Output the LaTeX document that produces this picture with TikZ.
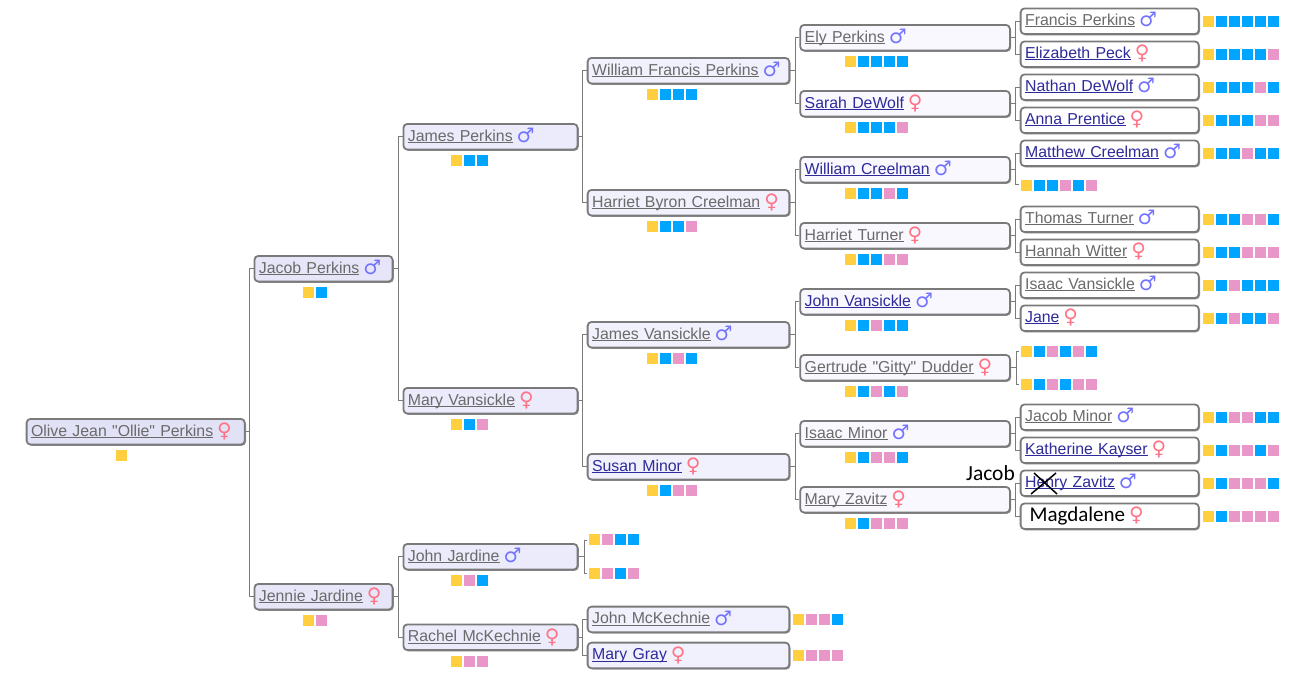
\documentclass[tikz,border=0pt]{standalone}
\usepackage{fontspec}
\newfontfamily\namefont{Liberation Sans}
\newfontfamily\symfont{DejaVu Sans}
\newfontfamily\notefont{Carlito}
\usetikzlibrary{shadows}
\definecolor{tintA}{HTML}{E2E2F6}
\definecolor{tintB}{HTML}{E6E6F8}
\definecolor{tintC}{HTML}{EBEBFB}
\definecolor{tintD}{HTML}{F1F1FD}
\definecolor{tintE}{HTML}{F8F8FE}
\definecolor{seen}{HTML}{6A6A6A}
\definecolor{fresh}{HTML}{2E2A9A}
\definecolor{maleink}{HTML}{7373FF}
\definecolor{femaleink}{HTML}{FF7385}
\definecolor{edge}{HTML}{7A7A7A}
\definecolor{dnaY}{HTML}{FFCF40}
\definecolor{dnaB}{HTML}{00A5FF}
\definecolor{dnaP}{HTML}{E897C8}
\newcommand{\symM}{{\color{maleink}\symfont\fontsize{20}{19}\selectfont\bfseries ♂}}
\newcommand{\symF}{{\color{femaleink}\symfont\fontsize{20}{19}\selectfont\bfseries ♀}}
\newcommand{\ulname}[1]{\setbox0=\hbox{#1}\rlap{\rule[-1.9pt]{\wd0}{0.9pt}}\box0}
\newcommand{\namecard}[3]{\textcolor{#1}{\ulname{#2}}\hspace{4pt}\raisebox{-1.5pt}{#3}}
\newcommand{\dnarow}[3]{\edef\dnalist{#3}%
	\foreach \c [count=\i from 0] in \dnalist {\fill[dna\c] ({#1+13*\i},{#2}) rectangle ++(11,11);}}
\tikzset{person/.style={draw=edge, line width=1.8pt, rounded corners=4pt, anchor=north west,
		minimum height=25.7pt, inner xsep=4.5pt, inner ysep=0pt, align=left,
		text height=12pt, text depth=3pt,
		font=\namefont\fontsize{15.85}{19}\selectfont,
		drop shadow={shadow xshift=1.2pt, shadow yshift=-1.2pt, opacity=.4, fill=black}},
	lastperson/.style={person, fill=white, text width=169.2pt, text height=11.5pt, text depth=3.5pt},
	link/.style={draw=edge, line width=1pt}}

\begin{document}
\begin{tikzpicture}[x=1pt,y=-1pt]
	\useasboundingbox (0,0) rectangle (1300,680);
	% root
	\foreach \id/\y/\who/\ink/\sx/\dna in {olive/418/Olive Jean "Ollie" Perkins/seen/\symF/Y}{%
		\node[person,fill=tintA,text width=209.2pt] (\id) at (25.7,\y) {\namecard{\ink}{\who}{\sx}};
		\dnarow{116}{\y+32}{\dna}
	}
	% parents
	\foreach \id/\y/\who/\ink/\sx/\dna in {jacobp/255/Jacob Perkins/seen/\symM/{Y,B},
		jennie/583/Jennie Jardine/seen/\symF/{Y,P}}{%
		\node[person,fill=tintB,text width=129.2pt] (\id) at (253.5,\y) {\namecard{\ink}{\who}{\sx}};
		\dnarow{303}{\y+32}{\dna}
	}
	% grandparents
	\foreach \id/\y/\who/\ink/\sx/\dna in {jamesp/123/James Perkins/seen/\symM/{Y,B,B},
		maryv/387/Mary Vansickle/seen/\symF/{Y,B,P},
		johnj/543/John Jardine/seen/\symM/{Y,P,B},
		rachel/623.5/Rachel McKechnie/seen/\symF/{Y,P,P}}{%
		\node[person,fill=tintC,text width=165.2pt] (\id) at (402.5,\y) {\namecard{\ink}{\who}{\sx}};
		\dnarow{451}{\y+32}{\dna}
	}
	% great grandparents
	\foreach \id/\y/\who/\ink/\sx/\dna in {williamf/57/William Francis Perkins/seen/\symM/{Y,B,B,B},
		harrietb/189/Harriet Byron Creelman/seen/\symF/{Y,B,B,P},
		jamesv/321/James Vansickle/seen/\symM/{Y,B,P,B},
		susan/453/Susan Minor/fresh/\symF/{Y,B,P,P}}{%
		\node[person,fill=tintD,text width=192.7pt] (\id) at (586.7,\y) {\namecard{\ink}{\who}{\sx}};
		\dnarow{647}{\y+32}{\dna}
	}
	\foreach \id/\y/\who/\ink/\sx/\dna in {johnm/605.7/John McKechnie/seen/\symM/{Y,P,P,B},
		maryg/641.7/Mary Gray/fresh/\symF/{Y,P,P,P}}{%
		\node[person,fill=tintD,text width=192.7pt] (\id) at (586.7,\y) {\namecard{\ink}{\who}{\sx}};
		\dnarow{793}{\y+8.5}{\dna}
	}
	% fourth row
	\foreach \id/\y/\who/\ink/\sx/\dna in {ely/24/Ely Perkins/seen/\symM/{Y,B,B,B,B},
		sarah/90/Sarah DeWolf/fresh/\symF/{Y,B,B,B,P},
		williamc/156/William Creelman/fresh/\symM/{Y,B,B,P,B},
		harriett/222/Harriet Turner/seen/\symF/{Y,B,B,P,P},
		johnv/288/John Vansickle/fresh/\symM/{Y,B,P,B,B},
		gertrude/354/Gertrude "Gitty" Dudder/seen/\symF/{Y,B,P,B,P},
		isaacm/420/Isaac Minor/seen/\symM/{Y,B,P,P,B},
		maryz/486/Mary Zavitz/seen/\symF/{Y,B,P,P,P}}{%
		\node[person,fill=tintE,text width=200.7pt] (\id) at (799.3,\y) {\namecard{\ink}{\who}{\sx}};
		\dnarow{845}{\y+32}{\dna}
	}
	% last row
	\foreach \id/\y/\who/\ink/\sx/\dna in {francis/7.5/Francis Perkins/seen/\symM/{Y,B,B,B,B,B},
		elizabeth/40.5/Elizabeth Peck/fresh/\symF/{Y,B,B,B,B,P},
		nathan/73.5/Nathan DeWolf/fresh/\symM/{Y,B,B,B,P,B},
		anna/106.5/Anna Prentice/fresh/\symF/{Y,B,B,B,P,P},
		matthew/139.5/Matthew Creelman/fresh/\symM/{Y,B,B,P,B,B},
		thomas/205.5/Thomas Turner/seen/\symM/{Y,B,B,P,P,B},
		hannah/238.5/Hannah Witter/seen/\symF/{Y,B,B,P,P,P},
		isaacv/271.5/Isaac Vansickle/seen/\symM/{Y,B,P,B,B,B},
		jane/304.5/Jane/fresh/\symF/{Y,B,P,B,B,P},
		jacobm/403.5/Jacob Minor/seen/\symM/{Y,B,P,P,B,B},
		katherine/436.5/Katherine Kayser/fresh/\symF/{Y,B,P,P,B,P},
		henry/469.5/Henry Zavitz/fresh/\symM/{Y,B,P,P,P,B}}{%
		\node[lastperson] (\id) at (1019.7,\y) {\namecard{\ink}{\who}{\sx}};
		\dnarow{1203}{\y+8.5}{\dna}
	}
	\node[lastperson] (magdalene) at (1019.7,502.5)
		{\hspace{4.5pt}\raisebox{-1pt}{\notefont\fontsize{21}{22}\selectfont Magdalene}\hspace{4pt}\raisebox{-1.5pt}{\symF}};
	\dnarow{1203}{511}{Y,B,P,P,P,P}
	% rows with no box
	\dnarow{1021}{180}{Y,B,B,P,B,P}
	\dnarow{1021}{346}{Y,B,P,B,P,B}
	\dnarow{1021}{378.5}{Y,B,P,B,P,P}
	\dnarow{589}{534}{Y,P,B,B}
	\dnarow{589}{568}{Y,P,B,P}
	\coordinate (freeA) at (1019,184.5);
	\coordinate (freeB) at (1019,351);
	\coordinate (freeC) at (1019,384);
	\coordinate (freeD) at (587,540);
	\coordinate (freeE) at (587,573);
	% brackets
	\foreach \p/\a/\b in {olive/jacobp/jennie,jacobp/jamesp/maryv,jennie/johnj/rachel,
		jamesp/williamf/harrietb,maryv/jamesv/susan,rachel/johnm/maryg,
		williamf/ely/sarah,harrietb/williamc/harriett,jamesv/johnv/gertrude,susan/isaacm/maryz,
		ely/francis/elizabeth,sarah/nathan/anna,harriett/thomas/hannah,johnv/isaacv/jane,
		isaacm/jacobm/katherine,maryz/henry/magdalene}{%
		\draw[link] (\a.west) -- ++(-4,0) coordinate (elbow) |- (\b.west) (\p.east) -- (\p.east -| elbow);
	}
	\draw[link] (matthew.west) -- ++(-4,0) coordinate (elbow) |- (freeA) (williamc.east) -- (williamc.east -| elbow);
	\foreach \p/\a/\b in {gertrude/freeB/freeC,johnj/freeD/freeE}{%
		\draw[link] (\a) -- ++(-3,0) coordinate (elbow) |- (\b) (\p.east) -- (\p.east -| elbow);
	}
	% the correction written over the chart
	\node[font=\notefont\fontsize{21.5}{22}\selectfont] (jacobnote) at (990.5,473) {Jacob};
	\draw[black,line width=1.5pt] (1034,473) -- (1057,494) (1056,473) -- (1031,494);
\end{tikzpicture}
\end{document}
